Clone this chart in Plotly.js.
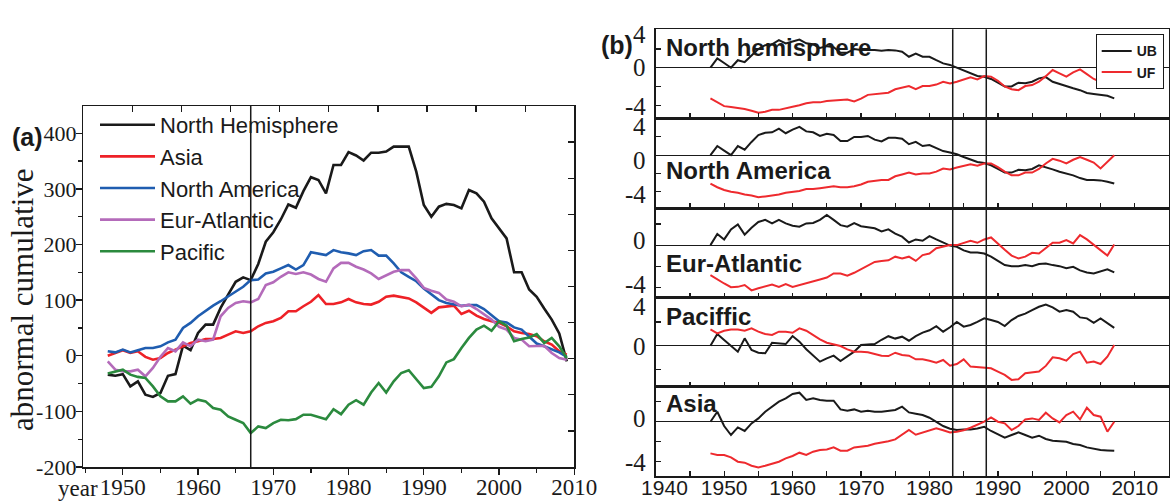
<!DOCTYPE html>
<html><head><meta charset="utf-8">
<script src="https://cdn.plot.ly/plotly-3.0.1.min.js"></script>
<style>html,body{margin:0;padding:0;background:#fff}#chart{width:1170px;height:501px}</style>
</head><body><div id="chart"></div>
<script>
// ---------- Panel (a) data ----------
const yearsA = [1948,1949,1950,1951,1952,1953,1954,1955,1956,1957,1958,1959,1960,1961,1962,1963,1964,1965,1966,1967,1968,1969,1970,1971,1972,1973,1974,1975,1976,1977,1978,1979,1980,1981,1982,1983,1984,1985,1986,1987,1988,1989,1990,1991,1992,1993,1994,1995,1996,1997,1998,1999,2000,2001,2002,2003,2004,2005,2006,2007,2008,2009];
const northHemisphere = [-34,-36,-33,-55,-46,-70,-74,-67,-36,-33, 18,10,41,56,56,86,110,133,141,136, 165,205,222,245,272,266,296,321,316,292, 343,343,366,360,351,365,365,367,376,376, 376,331,271,250,268,273,271,265,298,292, 277,247,229,211,150,150,119,106,85,65, 40,-10];
const asia = [0,5,10,5,8,-2,-7,-4,5,11, 17,23,26,30,30,32,38,44,41,44, 53,59,62,68,80,80,89,97,109,93, 93,96,102,96,93,92,97,106,108,106, 103,96,86,77,87,89,90,75,81,72, 66,62,59,53,44,41,39,35,26,20, 8,2];
const northAmerica = [8,6,11,6,10,14,14,17,24,29, 50,59,71,81,90,98,107,115,124,136, 137,148,151,157,163,155,163,186,184,181, 190,186,184,181,188,190,180,180,166,150, 142,134,121,110,100,95,92,90,91,91, 84,73,62,60,51,47,35,22,17,11, 6,-2];
const eurAtlantic = [-10,-25,-28,-28,-25,-37,-22,-2,14,8, 24,17,29,26,29,71,86,95,98,96, 102,127,132,142,150,147,150,146,138,133, 157,167,167,160,155,148,138,145,151,154, 154,139,122,117,113,101,97,89,92,84, 74,65,52,47,32,29,17,17,18,5, -4,-7];
const pacific = [-32,-28,-25,-34,-38,-40,-55,-73,-82,-82, -73,-86,-79,-82,-94,-97,-109,-115,-121,-139, -127,-130,-121,-115,-116,-114,-106,-106,-110,-114, -96,-105,-88,-80,-88,-66,-49,-66,-46,-31, -26,-43,-58,-56,-37,-12,-6,14,32,47, 54,45,62,54,26,30,33,39,23,32, 17,-4];
const seriesNamesA = ['North Hemisphere','Asia','North America','Eur-Atlantic','Pacific'];
const changeYearA = [1967];
const yTickValsA = [-200,-100,0,100,200,300,400];
const yTickTextA = ['-200','-100','0','100','200','300','400'];
const yMinorA = [-150,-50,50,150,250,350];
const xTickValsA = [1950,1960,1970,1980,1990,2000,2010];
const xMinorA = [1945,1955,1965,1975,1985,1995,2005];

// ---------- Panel (b) data ----------
const yearsB = [1948,1949,1950,1951,1952,1953,1954,1955,1956,1957,1958,1959,1960,1961,1962,1963,1964,1965,1966,1967,1968,1969,1970,1971,1972,1973,1974,1975,1976,1977,1978,1979,1980,1981,1982,1983,1984,1985,1986,1987,1988,1989,1990,1991,1992,1993,1994,1995,1996,1997,1998,1999,2000,2001,2002,2003,2004,2005,2006,2007];
const nhUB = [0,1.0,0.5,0,0.8,0.6,1.3,2.0,2.4,2.5, 2.95,2.6,2.8,3.0,2.6,2.5,2.1,2.3,2.2,1.6, 1.6,2.0,1.9,1.9,1.9,1.8,1.9,1.85,1.7,1.17, 1.5,1.17,1.17,0.8,0.46,0.3,0.0,-0.35,-0.6,-0.89, -0.96,-1.2,-1.6,-2.0,-2.0,-1.6,-1.65,-1.5,-1.14,-1.0, -1.5,-1.75,-1.96,-2.2,-2.4,-2.7,-2.8,-2.9,-3.0,-3.27];
const nhUF = [-3.27,-3.7,-4.1,-4.2,-4.3,-4.4,-4.6,-4.8,-4.7,-4.5, -4.5,-4.3,-4.16,-4.0,-3.8,-3.7,-3.7,-3.56,-3.5,-3.4, -3.4,-3.6,-3.3,-2.9,-2.8,-2.7,-2.67,-2.3,-2.1,-1.96, -2.3,-1.96,-1.96,-1.8,-1.5,-1.67,-1.5,-1.3,-1.03,-1.25, -0.9,-0.95,-1.4,-2.0,-2.3,-2.4,-1.96,-1.85,-1.5,-0.9, -0.25,-0.6,-0.96,-0.5,-0.18,-0.68,-1.2,-1.5,-0.89,0];
const naUB = [0,1.0,0.5,0,1.0,0.6,1.45,2.2,2.45,2.5, 2.9,2.4,2.8,3.1,2.6,2.5,2.1,2.35,2.2,1.55, 1.55,2.0,2.0,2.1,1.7,1.5,1.9,1.9,1.8,1.2, 1.45,1.0,1.1,0.8,0.45,0.3,0.1,-0.2,-0.45,-0.75, -0.85,-1.1,-1.5,-1.9,-1.9,-1.6,-1.65,-1.5,-1.1,-1.3, -1.55,-1.8,-2.0,-2.2,-2.5,-2.7,-2.7,-2.75,-2.9,-3.1];
const naUF = [-3.1,-3.5,-3.8,-4.0,-4.1,-4.3,-4.4,-4.6,-4.5,-4.4, -4.3,-4.1,-4.0,-3.9,-3.7,-3.7,-3.6,-3.5,-3.4,-3.5, -3.5,-3.4,-3.2,-2.9,-2.8,-2.7,-2.7,-2.3,-2.1,-1.9, -2.1,-2.0,-2.0,-1.8,-1.45,-1.55,-1.35,-1.2,-1.0,-1.15, -0.9,-0.9,-1.3,-1.8,-2.2,-2.2,-1.9,-1.9,-1.5,-0.9, -0.4,-0.6,-0.9,-0.5,-0.2,-0.5,-0.8,-1.45,-0.7,0];
const eaUB = [0,1.05,0.54,1.5,1.97,1.0,1.65,2.2,2.4,2.06, 2.4,2.06,1.84,1.75,2.06,2.1,2.4,2.86,2.4,1.9, 1.75,2.1,1.8,1.7,1.6,1.3,1.5,1.1,0.8,0.25, 0.54,0.41,0.86,0.54,0.25,-0.05,-0.16,-0.5,-0.7,-0.7, -0.8,-1.1,-1.5,-1.9,-2.0,-2.0,-1.9,-2.0,-1.8,-1.75, -1.9,-2.0,-2.2,-2.06,-2.4,-2.6,-2.7,-2.5,-2.3,-2.6];
const eaUF = [-2.86,-3.27,-3.65,-4.0,-3.97,-3.8,-4.3,-4.1,-3.9,-3.75, -3.97,-3.7,-3.97,-3.8,-3.65,-3.5,-3.27,-3.08,-2.7,-2.7, -2.9,-2.63,-2.3,-2.0,-1.6,-1.5,-1.45,-1.1,-1.27,-1.1, -1.5,-0.95,-0.8,-0.3,-0.16,0,0,0.2,0.41,0.22, 0.54,0.73,0.1,-0.45,-1.0,-1.27,-1.1,-0.73,-0.8,-0.32, 0.22,0.22,0.48,0.16,0.95,0.54,0,-0.48,-1.0,0.06];
const pacUB = [0,0.98,0.48,0,-0.5,0.62,-0.36,-0.59,-0.64,0.25, 0.2,0.14,0.81,0.34,-0.3,-0.78,-1.34,-1.06,-0.84,-1.29, -0.92,-0.5,0.06,0.1,0.14,0.5,0.8,0.6,0.76,0.42, 0.8,1.1,1.3,1.65,1.18,1.55,2.0,1.6,1.74,2.0, 2.3,2.16,2.0,1.65,2.16,2.5,2.7,3.0,3.28,3.47, 3.22,2.86,3.0,2.86,2.38,2.3,1.93,2.3,1.93,1.5];
const pacUF = [1.37,1.04,1.26,1.37,1.37,1.26,1.46,1.18,0.98,0.9, 1.18,1.18,1.09,1.46,1.26,0.9,0.53,0.25,0.14,-0.03, -0.31,-0.5,-0.5,-0.56,-0.7,-0.84,-0.87,-0.59,-0.78,-0.84, -1.15,-1.15,-1.26,-1.43,-1.2,-1.68,-1.54,-1.15,-1.76,-1.82, -1.9,-1.9,-2.18,-2.46,-2.88,-2.83,-2.32,-2.27,-2.18,-1.7, -0.98,-1.06,-1.26,-0.7,-0.5,-1.43,-1.34,-1.54,-0.92,0.06];
const asUB = [0,1.0,-0.43,-1.33,-0.57,-0.93,-0.17,0.33,1.0,1.5, 2.0,2.33,2.77,2.9,2.17,2.33,2.17,2.1,2.1,1.23, 1.1,1.23,1.0,1.1,1.0,1.0,1.1,1.17,1.5,0.93, 0.8,0.67,0.4,0.0,-0.43,-0.7,-0.83,-0.77,-0.77,-0.67, -0.5,-0.93,-1.27,-1.6,-1.33,-1.07,-1.33,-1.6,-1.4,-1.73, -1.9,-1.93,-2.0,-2.23,-2.33,-2.57,-2.73,-2.83,-2.87,-2.9];
const asUF = [-3.17,-3.33,-3.33,-3.57,-4.0,-4.1,-4.4,-4.57,-4.4,-4.23, -4.0,-3.67,-3.43,-3.1,-3.33,-3.0,-2.83,-2.77,-2.57,-2.9, -2.9,-2.57,-2.5,-2.4,-2.2,-2.1,-1.95,-1.77,-1.33,-0.83, -1.3,-1.1,-0.9,-0.67,-0.85,-1.07,-1.0,-0.85,-0.6,-0.3, 0.0,0.43,0.0,-0.17,-0.83,-0.43,0.23,0.33,0.17,0.9, 0.33,-0.07,0.67,1.0,0.23,1.4,0.67,0.5,-1.0,0.0];
const regionNamesB = ['North hemisphere','North America','Eur-Atlantic','Paciffic','Asia'];
const changeYearsB = [1983.4, 1988.3];
const xTickValsB = [1940,1945,1950,1955,1960,1965,1970,1975,1980,1985,1990,1995,2000,2005,2010];
const xTickTextB = ['\u00a0\u00a0\u00a01940','','1950','','1960','','1970','','1980','','1990','','2000','','2010'];
const yTickValsB = [-4,-2,0,2,4];
const yLabelValsB = [-4,0,4];
const yLabelTextB = ['-4','0','4'];

// ---------- styling ----------
const W = 1170, H = 501;
const px = v => v / W, py = v => 1 - v / H;
const SERIF = 'Liberation Serif, Times New Roman, serif';
const SANS = 'Liberation Sans, Arial, sans-serif';
const INK = '#1a1a1a';
const colorsA = ['#1a1a1a', '#ee2127', '#1f5db0', '#b46bba', '#2b8a3e'];
const RED = '#ee2a2e';

const traces = [];
const seriesA = [northHemisphere, asia, northAmerica, eurAtlantic, pacific];
seriesA.forEach((s, i) => traces.push({
  x: yearsA, y: s, type: 'scatter', mode: 'lines', name: seriesNamesA[i],
  line: {color: colorsA[i], width: 2.6}, xaxis: 'x', yaxis: 'y', legend: 'legend'
}));
// placeholder (draws nothing) so the top/right frame axes of panel (a) get drawn
traces.push({x: [null], y: [null], type: 'scatter', mode: 'lines', xaxis: 'x7', yaxis: 'y7', showlegend: false, hoverinfo: 'skip'});

const seriesB = [[nhUB, nhUF], [naUB, naUF], [eaUB, eaUF], [pacUB, pacUF], [asUB, asUF]];
seriesB.forEach((pair, i) => {
  const ax = String(i + 2);
  traces.push({x: yearsB, y: pair[0], type: 'scatter', mode: 'lines', name: 'UB',
    line: {color: INK, width: 2}, xaxis: 'x' + ax, yaxis: 'y' + ax, legend: 'legend2', showlegend: i === 0});
  traces.push({x: yearsB, y: pair[1], type: 'scatter', mode: 'lines', name: 'UF',
    line: {color: RED, width: 2}, xaxis: 'x' + ax, yaxis: 'y' + ax, legend: 'legend2', showlegend: i === 0});
});

const domXA = [px(83.3), px(574.3)], domYA = [py(467), py(106)];
const layout = {
  width: W, height: H,
  margin: {l: 0, r: 0, t: 0, b: 0},
  paper_bgcolor: '#fff', plot_bgcolor: 'rgba(0,0,0,0)',
  showlegend: true,
  xaxis: {domain: domXA, range: [1944.75, 2010], anchor: 'y',
    tickmode: 'array', tickvals: xTickValsA, ticks: 'outside', ticklen: 6, tickwidth: 1.3, tickcolor: INK,
    minor: {tickmode: 'array', tickvals: xMinorA, ticks: 'outside', ticklen: 4, tickwidth: 1.3, tickcolor: INK},
    showline: true, mirror: true, linecolor: INK, linewidth: 1.5, showgrid: false, zeroline: false,
    ticklabelstandoff: -7,
    tickfont: {family: SERIF, size: 23, color: INK}},
  yaxis: {domain: domYA, range: [-200, 449], anchor: 'x',
    tickmode: 'array', tickvals: yTickValsA, ticktext: yTickTextA, ticks: 'outside', ticklen: 6, tickwidth: 1.3, tickcolor: INK,
    minor: {tickmode: 'array', tickvals: yMinorA, ticks: 'outside', ticklen: 4, tickwidth: 1.3, tickcolor: INK},
    showline: true, mirror: true, linecolor: INK, linewidth: 1.5, showgrid: false, zeroline: false,
    ticklabelstandoff: -5,
    tickfont: {family: SERIF, size: 22, color: INK}},
  xaxis7: {domain: domXA, anchor: 'y7', side: 'top', range: [0, 10], dtick: 1, type: 'linear',
    ticks: 'inside', ticklen: 6, tickwidth: 1.3, tickcolor: INK, showticklabels: false,
    showline: true, linecolor: INK, linewidth: 1.5, showgrid: false, zeroline: false},
  yaxis7: {domain: domYA, anchor: 'x7', side: 'right', range: [0, 10], dtick: 1, type: 'linear',
    ticks: 'inside', ticklen: 6, tickwidth: 1.3, tickcolor: INK, showticklabels: false,
    showline: true, linecolor: INK, linewidth: 1.5, showgrid: false, zeroline: false},
  legend: {x: px(95), y: py(104), xanchor: 'left', yanchor: 'top', bgcolor: 'rgba(0,0,0,0)', borderwidth: 0,
    font: {family: SANS, size: 22, color: INK}, itemwidth: 55, tracegroupgap: 0},
  legend2: {x: px(1095.7), y: py(34.3), xanchor: 'left', yanchor: 'top', bgcolor: '#fff', bordercolor: INK, borderwidth: 1,
    font: {family: SANS, size: 14, color: INK, weight: 'bold'}, itemwidth: 30, tracegroupgap: 0},
  shapes: [],
  annotations: []
};

// panel (b) axes
const domainsB = [[29.3, 118.3], [118.3, 208.3], [208.3, 297.7], [297.7, 386.7], [386.7, 476]];
const rangesB = [[-5.4, 4.1], [-5.8, 4.03], [-5.0, 3.5], [-3.45, 4.04], [-5.43, 3.5]];
// vertical pixel offsets of the y tick labels (as placed in the original figure), keyed by label value
const labelOffsetB = [{'4': -4, '0': 0, '-4': -1}, {'4': -8, '0': -5, '-4': -3}, {'0': 5, '-4': 3},
                      {'4': -8, '0': -1}, {'0': 3, '-4': -1}];
const labelYB = [47, 170, 263, 316, 403];
domainsB.forEach((d, i) => {
  const ax = String(i + 2);
  const last = i === domainsB.length - 1;
  layout['xaxis' + ax] = {domain: [px(655.7), px(1169)], range: [1940, 2015], anchor: 'y' + ax,
    tickmode: 'array', tickvals: xTickValsB, ticktext: xTickTextB, ticks: 'inside', ticklen: 5, tickwidth: 1.2, tickcolor: INK,
    showticklabels: last, showline: true, mirror: true, linecolor: INK, linewidth: 1.5, showgrid: false, zeroline: false,
    ticklabelstandoff: -8,
    tickfont: {family: SANS, size: 21, color: INK}};
  layout['yaxis' + ax] = {domain: [py(d[1]), py(d[0])], range: rangesB[i], anchor: 'x' + ax,
    tickmode: 'array', tickvals: yTickValsB, ticks: 'inside', ticklen: 5, tickwidth: 1.2, tickcolor: INK,
    showticklabels: false,
    showline: true, mirror: true, linecolor: INK, linewidth: 1.5, showgrid: false,
    zeroline: true, zerolinecolor: INK, zerolinewidth: 1.2};
  yLabelValsB.forEach((v, k) => {
    if (v < rangesB[i][0] || v > rangesB[i][1]) return;
    layout.annotations.push({xref: 'paper', yref: 'y' + ax, x: px(648), y: v, xanchor: 'right', yanchor: 'middle',
      yshift: labelOffsetB[i][String(v)] || 0, showarrow: false, text: yLabelTextB[k],
      font: {family: SERIF, size: 25, color: INK}});
  });
  layout.annotations.push({xref: 'paper', yref: 'paper', x: px(664),
    y: py(labelYB[i]), xanchor: 'left', yanchor: 'middle', showarrow: false,
    text: regionNamesB[i], font: {family: SANS, size: 24, color: INK, weight: 'bold'}});
});

changeYearA.forEach(yr => layout.shapes.push({type: 'line', xref: 'x', yref: 'y domain', x0: yr, x1: yr, y0: 0, y1: 1,
  line: {color: INK, width: 1.5}}));
changeYearsB.forEach(yr => layout.shapes.push({type: 'line', xref: 'x2', yref: 'paper', x0: yr, x1: yr,
  y0: py(476), y1: py(29.3), line: {color: INK, width: 1.5}}));

layout.annotations.push(
  {xref: 'paper', yref: 'paper', x: px(10), y: py(137), xanchor: 'left', yanchor: 'middle', showarrow: false,
   text: '(a)', font: {family: SANS, size: 25, color: INK, weight: 'bold'}},
  {xref: 'paper', yref: 'paper', x: px(599), y: py(45), xanchor: 'left', yanchor: 'middle', showarrow: false,
   text: '(b)', font: {family: SANS, size: 25, color: INK, weight: 'bold'}},
  {xref: 'paper', yref: 'paper', x: px(100), y: py(488), xanchor: 'right', yanchor: 'middle', showarrow: false,
   text: 'year', font: {family: SERIF, size: 23, color: INK}},
  {xref: 'paper', yref: 'paper', x: px(22), y: py(300), xanchor: 'center', yanchor: 'middle', showarrow: false,
   textangle: -90, text: 'abnormal cumulative', font: {family: SERIF, size: 31, color: INK}}
);

Plotly.newPlot('chart', traces, layout, {staticPlot: true, displayModeBar: false});
</script>
</body></html>
